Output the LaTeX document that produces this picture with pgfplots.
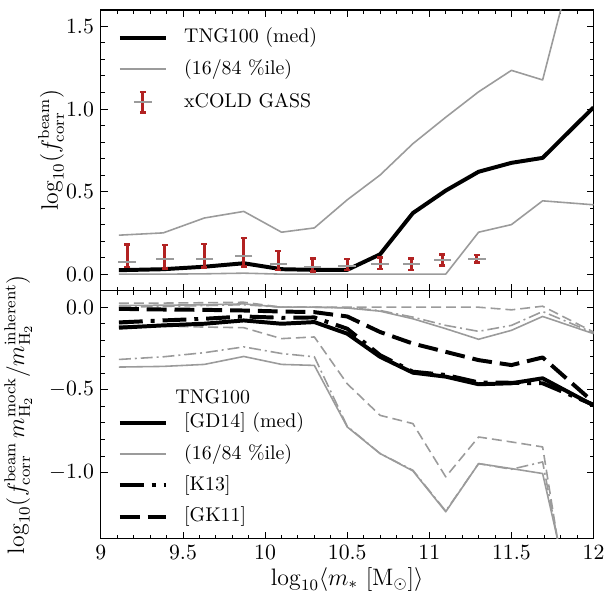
\documentclass[border=0pt]{standalone}
\usepackage{pgfplots}
\usepackage{pgfplotstable}
\pgfplotsset{compat=1.18}

\definecolor{firebrick}{RGB}{178,34,34}
\definecolor{pgrey}{RGB}{155,155,155}

% top panel: beam correction factor
\pgfplotstableread{
x      med    lo     hi
9.11   0.024  0.000  0.236
9.38   0.030  0.000  0.250
9.63   0.045  0.002  0.340
9.87   0.066  0.006  0.380
10.10  0.030  0.000  0.254
10.30  0.026  0.000  0.280
10.50  0.026  0.000  0.450
10.70  0.120  0.000  0.600
10.90  0.370  0.000  0.790
11.10  0.506  0.000  0.950
11.30  0.620  0.254  1.104
11.50  0.674  0.300  1.234
11.69  0.704  0.444  1.176
12.00  1.010  0.420  2.370
}\topdata

\pgfplotstableread{
x      y      ep     em
9.16   0.076  0.104  0.032
9.39   0.090  0.086  0.054
9.63   0.090  0.092  0.050
9.87   0.110  0.110  0.064
10.08  0.060  0.080  0.034
10.29  0.046  0.050  0.030
10.50  0.050  0.042  0.024
10.70  0.064  0.038  0.034
10.89  0.060  0.036  0.034
11.08  0.088  0.032  0.034
11.29  0.094  0.022  0.024
}\xcold

% bottom panel: GD14, K13, GK11 (median, 16th, 84th)
\pgfplotstableread{
x      gd      gdlo    gdhi    k       klo     khi     gk      gklo    gkhi
9.11   -0.124  -0.362  0.010   -0.092  -0.316  0.000   -0.010  -0.110  0.024
9.38   -0.110  -0.358  0.012   -0.080  -0.300  0.005   -0.014  -0.115  0.025
9.63   -0.100  -0.346  0.015   -0.070  -0.275  0.010   -0.016  -0.120  0.027
9.87   -0.080  -0.298  0.020   -0.056  -0.240  0.015   -0.020  -0.124  0.030
10.10  -0.100  -0.346  0.000   -0.064  -0.280  0.000   -0.026  -0.190  0.000
10.30  -0.090  -0.352  0.000   -0.062  -0.300  0.000   -0.030  -0.180  0.000
10.50  -0.160  -0.724  -0.005  -0.130  -0.720  -0.003  -0.056  -0.463  0.000
10.70  -0.300  -0.885  -0.024  -0.290  -0.885  -0.020  -0.150  -0.654  0.000
10.90  -0.396  -0.990  -0.070  -0.390  -0.986  -0.060  -0.220  -0.704  0.000
11.10  -0.420  -1.237  -0.130  -0.410  -1.233  -0.110  -0.270  -1.026  0.000
11.30  -0.466  -0.946  -0.194  -0.455  -0.946  -0.146  -0.320  -0.785  0.000
11.50  -0.460  -0.976  -0.140  -0.457  -0.980  -0.110  -0.350  -0.815  -0.016
11.69  -0.430  -1.006  -0.056  -0.460  -0.936  -0.026  -0.304  -0.845  0.006
12.00  -0.594  -2.360  -0.160  -0.590  -2.530  -0.155  -0.575  -2.760  -0.150
}\botdata

\pgfplotsset{
  panel/.style={
    scale only axis, width=248.3pt,
    xmin=9, xmax=12,
    xtick={9,9.5,...,12},
    minor x tick num=4, minor y tick num=4,
    tick align=inside, xtick pos=both, ytick pos=both,
    major tick length=3.5pt, minor tick length=2pt,
    tick style={black, line width=0.5pt},
    axis line style={line width=0.6pt},
    tick label style={font=\fontsize{10.5}{12}\selectfont},
    yticklabel style={/pgf/number format/.cd, fixed, fixed zerofill, precision=1},
    label style={font=\large},
    xlabel style={at={(axis description cs:0.5,0)}, anchor=base, yshift=-23.5pt},
    legend style={draw=none, fill=none, inner sep=0pt, outer sep=0pt, row sep=5.8pt,
      nodes={inner sep=0pt, text height=7.5pt, text depth=2.5pt},
      /tikz/every odd column/.append style={column sep=8.4pt}},
    legend cell align=left,
  },
  thickline/.style={black, line width=2pt, line join=round},
  thinline/.style={pgrey, line width=0.8pt, line join=round},
  gkdash/.style={dash pattern=on 10pt off 4pt},
  kdashdot/.style={dash pattern=on 12pt off 4pt on 2pt off 4pt},
  thindash/.style={dash pattern=on 5pt off 2.5pt},
  thindashdot/.style={dash pattern=on 6pt off 2pt on 1pt off 2pt},
  segleg/.style={legend image code/.code={\draw[##1] (0pt,0pt) -- (23pt,0pt);}},
}

\begin{document}
\begin{tikzpicture}
\path (-50.85pt,-26.15pt) rectangle (254.65pt,271.5pt);

\begin{axis}[panel, at={(0,125pt)}, anchor=south west, height=141.5pt,
  ymin=-0.1, ymax=1.6, ytick={0,0.5,1,1.5}, xticklabels={},
  ylabel={$\log_{10}\bigl(f_{\rm corr}^{\rm beam}\bigr)$},
  ylabel style={at={(axis description cs:-0.128,0.5)}, anchor=north, inner sep=0pt},
  legend style={at={(0.0346,0.936)}, anchor=north west}]
\addplot[thickline, forget plot] table[x=x, y=med] {\topdata};
\addplot[thinline, forget plot] table[x=x, y=hi] {\topdata};
\addplot[thinline, forget plot] table[x=x, y=lo] {\topdata};
\addplot[forget plot, only marks, mark=-, mark size=4.4pt,
  mark options={draw=pgrey, line width=1pt},
  error bars/.cd, y dir=both, y explicit,
  error bar style={firebrick, line width=1.5pt},
  error mark options={rotate=90, firebrick, line width=1.3pt, mark size=1.5pt}]
  table[x=x, y=y, y error plus=ep, y error minus=em] {\xcold};
\addlegendimage{thickline, segleg}
\addlegendentry{TNG100 (med)}
\addlegendimage{thinline, segleg}
\addlegendentry{(16/84 \%ile)}
\addlegendimage{legend image code/.code={
  \draw[firebrick, line width=1.5pt] (11.5pt,-5.2pt) -- (11.5pt,5.2pt);
  \draw[firebrick, line width=1.3pt] (10pt,-5.2pt) -- (13pt,-5.2pt) (10pt,5.2pt) -- (13pt,5.2pt);
  \draw[pgrey, line width=1pt] (7pt,0pt) -- (16pt,0pt);}}
\addlegendentry{xCOLD GASS}
\end{axis}

\begin{axis}[panel, at={(0,0)}, anchor=south west, height=125pt,
  ymin=-1.4, ymax=0.1, ytick={-1,-0.5,0},
  xlabel={$\log_{10}\langle m_*\ [{\rm M}_\odot]\rangle$},
  ylabel={$\log_{10}\bigl(f_{\rm corr}^{\rm beam}\,m_{\rm H_2}^{\rm mock}/m_{\rm H_2}^{\rm inherent}\bigr)$},
  ylabel style={at={(axis description cs:-0.1967,0.5)}, anchor=north, inner sep=0pt},
  legend style={at={(0.0346,0.634)}, anchor=north west}]
\addplot[thinline, forget plot] table[x=x, y=gdhi] {\botdata};
\addplot[thinline, forget plot] table[x=x, y=gdlo] {\botdata};
\addplot[thinline, thindashdot, forget plot] table[x=x, y=khi] {\botdata};
\addplot[thinline, thindashdot, forget plot] table[x=x, y=klo] {\botdata};
\addplot[thinline, thindash, forget plot] table[x=x, y=gkhi] {\botdata};
\addplot[thinline, thindash, forget plot] table[x=x, y=gklo] {\botdata};
\addplot[thickline, forget plot] table[x=x, y=gd] {\botdata};
\addplot[thickline, kdashdot, forget plot] table[x=x, y=k] {\botdata};
\addplot[thickline, gkdash, forget plot] table[x=x, y=gk] {\botdata};
\addlegendimage{empty legend}
\addlegendentry{\hspace*{-4.4pt}\raisebox{-3.5pt}[0pt][0pt]{TNG100}}
\addlegendimage{thickline, segleg}
\addlegendentry{[GD14] (med)}
\addlegendimage{thinline, segleg}
\addlegendentry{(16/84 \%ile)}
\addlegendimage{thickline, kdashdot, segleg}
\addlegendentry{[K13]}
\addlegendimage{thickline, gkdash, segleg}
\addlegendentry{[GK11]}
\end{axis}
\end{tikzpicture}
\end{document}
